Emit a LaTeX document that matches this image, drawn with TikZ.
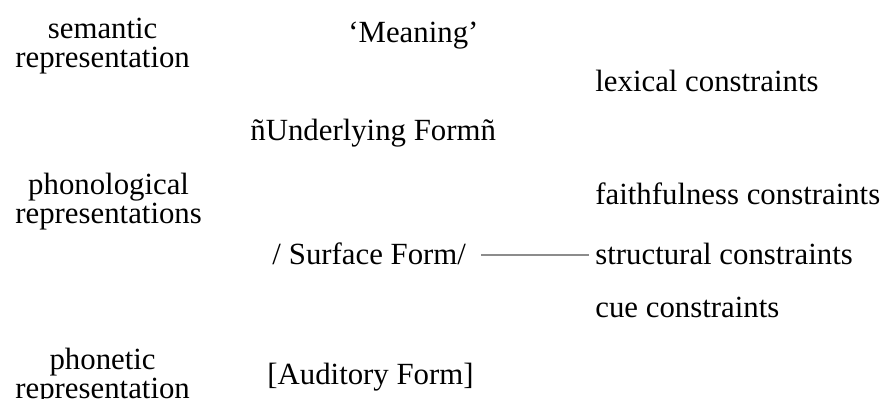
\documentclass[tikz,border=0pt]{standalone}
\usepackage{fontspec}
\setmainfont{Liberation Serif}
\usepackage{xcolor}
\usetikzlibrary{positioning, calc}

\begin{document}
\begin{tikzpicture}[x=0.5pt, y=-0.5pt,
        level/.style={inner sep=0pt, anchor=west, align=center, font=\fontsize{15.4}{14.5}\selectfont},
        form/.style={inner sep=0pt, anchor=base west, font=\fontsize{15.4}{14.5}\selectfont},
        constraint/.style={inner sep=0pt, anchor=base west, font=\fontsize{15.4}{14.5}\selectfont}]
        % Define colour for the link line
        \definecolor{linkgray}{RGB}{140,140,140}

        \useasboundingbox (0,0) rectangle (888,399);

        % Levels of representation on the left
        \node[level] (semantic) at (15, 46) {semantic\\representation};
        \node[level] (phonological) at (15, 202) {phonological\\representations};
        \node[level] (phonetic) at (15, 377) {phonetic\\representation};

        % The forms in the middle
        \node[form] (meaning) at (348, 43) {`Meaning'};
        \node[form] (underlying) at (250, 141) {ñUnderlying Formñ};
        \node[form] (surface) at (272, 265) {/\kern4pt Surface Form/};
        \node[form] (auditory) at (267, 385) {[Auditory Form]};

        % The constraints on the right
        \node[constraint] (lexical) at (595, 92) {lexical constraints};
        \node[constraint] (faithfulness) at (595, 205) {faithfulness constraints};
        \node[constraint] (structural) at (595, 265) {structural constraints};
        \node[constraint] (cue) at (595, 318) {cue constraints};

        % Link between surface form and structural constraints
        \coordinate (link) at ($(surface.base east)+(0,-10)$);
        \draw[linkgray, line width=0.6pt, shorten <=7.5pt, shorten >=3pt] (link) -- (link -| structural.west);

    \end{tikzpicture}
\end{document}
